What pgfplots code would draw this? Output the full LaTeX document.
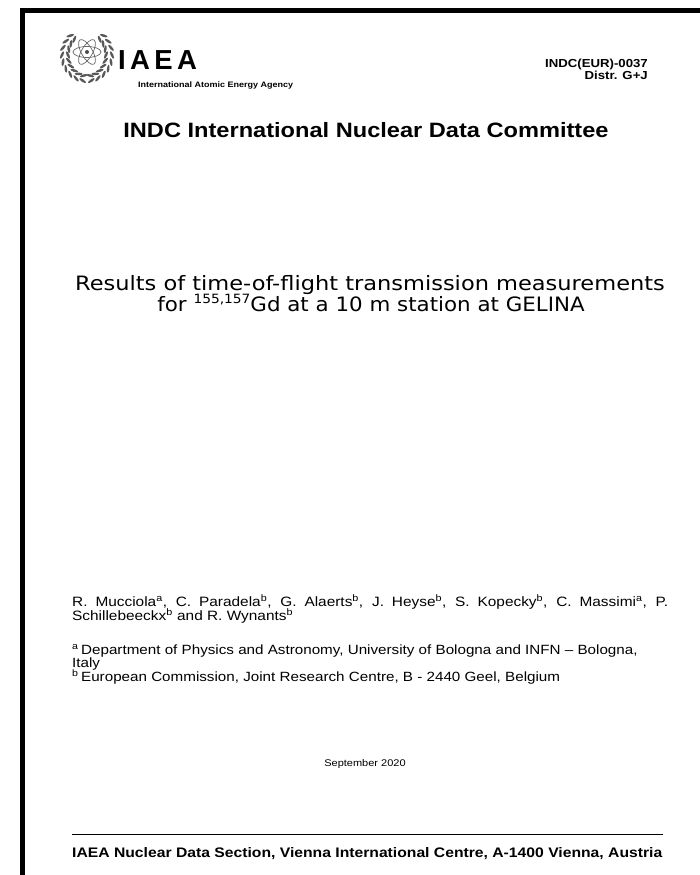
\documentclass[border=0pt]{standalone}
\usepackage{pgfplots}
\pgfplotsset{compat=1.18}
\usepackage{fontspec}
\setmainfont{Liberation Sans}
\newfontfamily\verd{DejaVu Sans}
\newfontfamily\iaea[LetterSpace=16]{Liberation Sans}
\newcommand{\fs}[1]{\fontsize{#1}{#1}\selectfont}
\newcommand{\sq}[1]{\scalebox{1}[0.88]{#1}}
\begin{document}
\begin{tikzpicture}
\begin{axis}[scale only axis, width=700pt, height=875pt,
 xmin=0, xmax=700, ymin=0, ymax=875, y dir=reverse,
 axis lines=none, clip=false, ticks=none]
\addplot[draw=none] coordinates {(0,0) (700,875)};
\addplot[black, line width=5pt, line join=miter] coordinates {(22.5,875) (22.5,10.5) (700,10.5)};
\addplot[black, line width=0.8pt] coordinates {(72,834) (663,834)};
\node[anchor=base west, inner sep=0] at (axis cs:118,70) {\iaea\bfseries\fs{27.5}IAEA};
\node[anchor=base west, inner sep=0] at (axis cs:138,88) {\sq{\bfseries\fs{9}International Atomic Energy Agency}};
\node[anchor=base east, inner sep=0] at (axis cs:648,67) {\sq{\bfseries\fs{13.2}INDC(EUR)-0037}};
\node[anchor=base east, inner sep=0] at (axis cs:648,80) {\sq{\bfseries\fs{13.2}Distr. G+J}};
\node[anchor=base, inner sep=0] at (axis cs:366,137) {\sq{\bfseries\fs{23.6}INDC International Nuclear Data Committee}};
\node[anchor=base, inner sep=0] at (axis cs:370,290) {\sq{\verd\fs{22.5}Results of time-of-flight transmission measurements}};
\node[anchor=base, inner sep=0] at (axis cs:371,311) {\scalebox{0.95}[0.88]{\verd\fs{22.5}for \raisebox{0.4em}{\fs{14.5}155,157}Gd at a 10 m station at GELINA}};
\node[anchor=base west, inner sep=0] at (axis cs:72,606) {\sq{\fs{15.4}\makebox[596pt][s]{R. Mucciola\textsuperscript{a}, C. Paradela\textsuperscript{b}, G. Alaerts\textsuperscript{b}, J. Heyse\textsuperscript{b}, S. Kopecky\textsuperscript{b}, C. Massimi\textsuperscript{a}, P.}}};
\node[anchor=base west, inner sep=0] at (axis cs:72,620) {\sq{\fs{15.4}Schillebeeckx\textsuperscript{b} and R. Wynants\textsuperscript{b}}};
\node[anchor=base west, inner sep=0] at (axis cs:72,654) {\sq{\fs{15.2}\textsuperscript{a}\,Department of Physics and Astronomy, University of Bologna and INFN – Bologna,}};
\node[anchor=base west, inner sep=0] at (axis cs:72,667) {\sq{\fs{15.2}Italy}};
\node[anchor=base west, inner sep=0] at (axis cs:72,681) {\sq{\fs{15.2}\textsuperscript{b}\,European Commission, Joint Research Centre, B - 2440 Geel, Belgium}};
\node[anchor=base, inner sep=0] at (axis cs:365,766) {\sq{\fs{11}September 2020}};
\node[anchor=base west, inner sep=0] at (axis cs:72,857) {\sq{\bfseries\fs{15.7}IAEA Nuclear Data Section, Vienna International Centre, A-1400 Vienna, Austria}};
\end{axis}
\begin{scope}[x=1pt, y=-1pt, yshift=875pt]
 % wreath
 \foreach \a in {100,116,...,240} {
   \fill[black!65, shift={({87+19*cos(\a)},{55+21*sin(\a)})}, rotate=-\a+25] (0,0) ellipse (1.3 and 4);
   \fill[black!65, shift={({87+25*cos(\a)},{55+26*sin(\a)})}, rotate=-\a-25] (0,0) ellipse (1.3 and 4);
   \fill[black!65, shift={({87-19*cos(\a)},{55+21*sin(\a)})}, rotate=\a-25] (0,0) ellipse (1.3 and 4);
   \fill[black!65, shift={({87-25*cos(\a)},{55+26*sin(\a)})}, rotate=\a+25] (0,0) ellipse (1.3 and 4);
 }
 % atom
 \draw[black!60, line width=0.7pt] (87,52) ellipse (14 and 5.5);
 \draw[black!60, line width=0.7pt, rotate around={60:(87,52)}] (87,52) ellipse (14 and 5.5);
 \draw[black!60, line width=0.7pt, rotate around={-60:(87,52)}] (87,52) ellipse (14 and 5.5);
 \fill[black!70] (87,52) circle (2);
 \pgfresetboundingbox
 \useasboundingbox (0,0) rectangle (700,875);
\end{scope}
\end{tikzpicture}
\end{document}
